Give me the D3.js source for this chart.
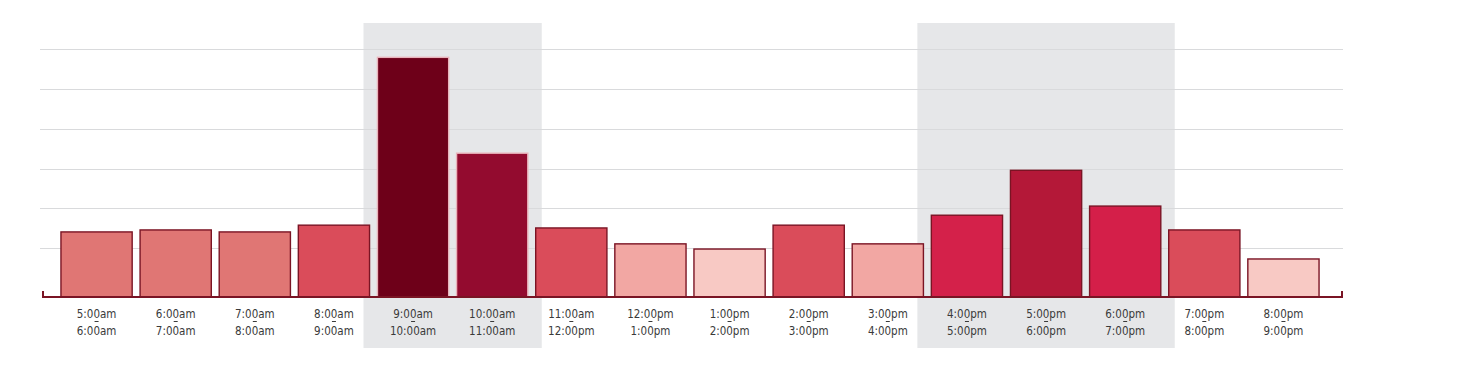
<!DOCTYPE html>
<html>
<head>
<meta charset="utf-8">
<script src="https://cdn.jsdelivr.net/npm/d3@7"></script>
<style>
  body { margin: 0; background: #fff; }
  svg text { font-family: "DejaVu Sans Condensed", "Liberation Sans Narrow", "Roboto", sans-serif; }
</style>
</head>
<body>
<div id="chart"></div>
<script>
// hour slots, start / end label
const startLabels = ["5:00am","6:00am","7:00am","8:00am","9:00am","10:00am","11:00am","12:00pm","1:00pm","2:00pm","3:00pm","4:00pm","5:00pm","6:00pm","7:00pm","8:00pm"];
const endLabels   = ["6:00am","7:00am","8:00am","9:00am","10:00am","11:00am","12:00pm","1:00pm","2:00pm","3:00pm","4:00pm","5:00pm","6:00pm","7:00pm","8:00pm","9:00pm"];
// relative volume per hour (grid units)
const values = [1.41, 1.46, 1.41, 1.58, 5.80, 3.39, 1.51, 1.11, 0.98, 1.58, 1.11, 1.83, 2.96, 2.06, 1.46, 0.73];
const barColors = ["#e07674","#e07674","#e07674","#da4c5a","#6e0019","#930b2f","#da4c5a","#f2a7a3","#f8c9c4","#da4c5a","#f2a7a3","#d4214a","#b41838","#d41f49","#da4c5a","#f8c9c4"];
const gridTicks = [1, 2, 3, 4, 5, 6];
// peak periods (first and last slot index)
const peaks = [[4, 5], [11, 13]];

const W = 1463, H = 377;
const svg = d3.select("#chart").append("svg")
    .attr("width", W)
    .attr("height", H);

const baseY = 297;
const x = d3.scaleBand()
    .domain(d3.range(values.length))
    .range([57, 1323])
    .paddingInner(0.1)
    .paddingOuter(0.05);
const y = d3.scaleLinear()
    .domain([0, 6])
    .range([288, 49.4]);

// shaded peak bands
const gap = x.step() * x.paddingInner() / 2 + 10;
svg.append("g")
    .selectAll("rect")
    .data(peaks)
    .enter()
    .append("rect")
    .attr("x", d => x(d[0]) - gap)
    .attr("width", d => x(d[1]) + x.bandwidth() - x(d[0]) + 2 * gap)
    .attr("y", 23)
    .attr("height", 325)
    .attr("fill", "#e6e7e9");

// grid lines
svg.append("g")
    .selectAll("line")
    .data(gridTicks)
    .enter()
    .append("line")
    .attr("x1", 40)
    .attr("x2", 1343)
    .attr("y1", d => Math.round(y(d)) + 0.5)
    .attr("y2", d => Math.round(y(d)) + 0.5)
    .attr("stroke", "#d9dadc")
    .attr("stroke-width", 1);

// bars
svg.append("g")
    .selectAll("rect")
    .data(values)
    .enter()
    .append("rect")
    .attr("x", (d, i) => x(i))
    .attr("width", x.bandwidth())
    .attr("y", d => y(d))
    .attr("height", d => baseY - y(d))
    .attr("fill", (d, i) => barColors[i])
    .attr("stroke", (d, i) => (i === 4 || i === 5) ? "#e9b3bb" : "#7a1424")
    .attr("stroke-width", 1.4);

// baseline with end ticks
svg.append("path")
    .attr("d", `M43,291V${baseY}H1342V291`)
    .attr("fill", "none")
    .attr("stroke", "#7a1424")
    .attr("stroke-width", 2);

// labels
const labels = svg.append("g")
    .selectAll("g")
    .data(startLabels)
    .enter()
    .append("g")
    .attr("transform", (d, i) => `translate(${x(i) + x.bandwidth() / 2}, 0)`);
labels.append("text")
    .attr("y", 318)
    .attr("text-anchor", "middle")
    .attr("font-size", 11.5)
    .attr("fill", "#3a3a3a")
    .text(d => d);
labels.append("line")
    .attr("x1", -2)
    .attr("x2", 2)
    .attr("y1", 321.5)
    .attr("y2", 321.5)
    .attr("stroke", "#3a3a3a")
    .attr("stroke-width", 1);
labels.append("text")
    .attr("y", 335)
    .attr("text-anchor", "middle")
    .attr("font-size", 11.5)
    .attr("fill", "#3a3a3a")
    .text((d, i) => endLabels[i]);
</script>
</body>
</html>
